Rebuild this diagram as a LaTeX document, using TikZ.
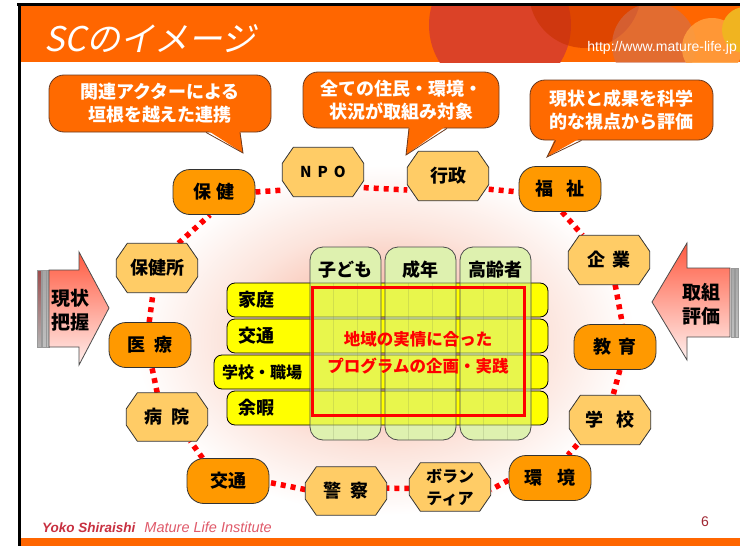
\documentclass[tikz,border=0pt]{standalone}
\usepackage{fontspec}
\setmainfont{Noto Sans CJK JP}
\newfontfamily\titlefont{Noto Sans CJK JP}[FakeSlant=0.22]
\newfontfamily\arialfont{Liberation Sans}
\usetikzlibrary{shapes.misc}
\pgfdeclarelayer{background}
\pgfdeclarelayer{nodebg}
\pgfsetlayers{background,nodebg,main}
\definecolor{hdr}{HTML}{FF6600}
\definecolor{pillc}{HTML}{FF9900}
\definecolor{octc}{HTML}{FFCC66}
\definecolor{callc}{HTML}{FF6A00}
\definecolor{calline}{HTML}{6A3A20}
\definecolor{ringc}{HTML}{FF0000}
\definecolor{rowc}{HTML}{FFFF00}
\definecolor{colc}{HTML}{D2EE98}
\definecolor{colbase}{HTML}{ECF6C8}
\definecolor{glowc}{HTML}{F9C6B6}
\definecolor{glowm}{HTML}{FCE4DC}
\definecolor{circA}{HTML}{DB4227}
\definecolor{circB}{HTML}{C83000}
\definecolor{circC}{HTML}{D07050}
\definecolor{circD}{HTML}{FFA040}
\definecolor{circE}{HTML}{F0B420}
\definecolor{footA}{HTML}{C83040}
\definecolor{footB}{HTML}{E05A6A}
\definecolor{arrtop}{HTML}{FF5A40}
\definecolor{arrbot}{HTML}{FFF0EE}
\pgfdeclareradialshading{glowshade}{\pgfpoint{0bp}{0bp}}{color(0bp)=(glowc); color(9bp)=(glowc); color(16bp)=(glowm); color(25bp)=(white); color(50bp)=(white)}
% octagon outline behind a named rectangular node
\newcommand{\octshape}[1]{%
  \begin{pgfonlayer}{nodebg}
  \filldraw[fill=octc, draw=black!80, line width=0.8pt]
    ([xshift=11pt]#1.north west) -- ([xshift=-11pt]#1.north east)
    -- ([yshift=-16pt]#1.north east) -- ([yshift=16pt]#1.south east)
    -- ([xshift=-11pt]#1.south east) -- ([xshift=11pt]#1.south west)
    -- ([yshift=16pt]#1.south west) -- ([yshift=-16pt]#1.north west) -- cycle;
  \end{pgfonlayer}}
\begin{document}
\begin{tikzpicture}[x=1pt,y=-1pt,
  lbl/.style={font=\fontsize{18}{20}\selectfont\bfseries, text=black, align=center},
  pill/.style={lbl, draw=black!80, line width=0.8pt, fill=pillc, rounded corners=17pt,
    minimum width=82pt, minimum height=45pt, inner sep=0pt},
  oct/.style={lbl, minimum width=81pt, minimum height=49pt, inner sep=0pt},
  ring/.style={draw=ringc, line width=5.5pt, dash pattern=on 5pt off 5pt},
  callout/.style={draw=calline, line width=0.8pt, fill=callc, rounded corners=15pt,
    text=white, font=\fontsize{18}{23}\selectfont\bfseries, align=center, inner sep=0pt},
  rowbar/.style={draw=black, line width=0.8pt, fill=rowc, rounded corners=8pt,
    minimum height=34pt, inner sep=0pt},
  colbase/.style={fill=colbase, rounded corners=13pt, minimum width=71pt, minimum height=193pt, inner sep=0pt},
  colbar/.style={draw=black!70, line width=0.8pt, fill=colc, fill opacity=0.5,
    rounded corners=13pt, minimum width=71pt, minimum height=193pt, inner sep=0pt},
  rowlbl/.style={font=\fontsize{18}{20}\selectfont\bfseries, anchor=west, inner sep=0pt},
  collbl/.style={font=\fontsize{18}{20}\selectfont\bfseries, inner sep=0pt},
  arrow/.style={draw=black!70, line width=0.8pt, top color=arrtop, bottom color=arrbot},
  arrlbl/.style={font=\fontsize{19}{24}\selectfont\bfseries, align=center, inner sep=0pt},
  bar/.style={draw=black!40, line width=0.5pt, top color=black!35, bottom color=black!25},
  redbar/.style={draw=black!40, line width=0.5pt, top color=red!45!black!70, bottom color=black!30}
]
\useasboundingbox (0,0) rectangle (740,546);
\begin{pgfonlayer}{background}
  \fill[white] (0,0) rectangle (740,546);
  \shade[shading=glowshade] (385,340) ellipse [x radius=250pt, y radius=175pt];
\end{pgfonlayer}

% ---------- header ----------
\fill[hdr] (20,6) rectangle (740,62);
\begin{scope}
  \clip (20,6) rectangle (740,62);
  \fill[circA] (500,25) circle [radius=71pt];
  \fill[circB, opacity=0.6] (585,-8) circle [radius=56pt];
  \fill[circC, opacity=0.6] (654,45) circle [radius=42pt];
  \fill[circD, opacity=0.85] (712,48) circle [radius=30pt];
  \fill[circE] (745,30) circle [radius=23pt];
\end{scope}
\fill[black] (17,3) rectangle (740,6);
\fill[black] (17.5,3) rectangle (20.5,546);
\fill[hdr] (20.5,538) rectangle (740,546);

\node[anchor=west, text=white, inner sep=0pt, font=\titlefont\fontsize{34}{36}\selectfont] (title) at (44,39) {SCのイメージ};
\node[anchor=east, text=white, inner sep=0pt, font=\arialfont\fontsize{14}{16}\selectfont] (url) at (737,48) {http://www.mature-life.jp};

% ---------- callouts ----------
\node[callout, minimum width=222pt, minimum height=57pt] (c1) at (160,103.5) {関連アクターによる\\垣根を越えた連携};
\coordinate (t1) at (243,153);
\fill[callc] ([xshift=46pt,yshift=3pt]c1.south) -- (t1) -- ([xshift=80pt,yshift=3pt]c1.south) -- cycle;
\draw[calline, line width=0.8pt] ([xshift=46pt]c1.south) -- (t1) -- ([xshift=80pt]c1.south);

\node[callout, minimum width=196pt, minimum height=56pt] (c2) at (401,100) {全ての住民・環境・\\状況が取組み対象};
\coordinate (t2) at (406,155);
\fill[callc] ([xshift=8pt,yshift=3pt]c2.south) -- (t2) -- ([xshift=46pt,yshift=3pt]c2.south) -- cycle;
\draw[calline, line width=0.8pt] ([xshift=8pt]c2.south) -- (t2) -- ([xshift=46pt]c2.south);

\node[callout, minimum width=183pt, minimum height=60pt] (c3) at (621.5,110) {現状と成果を科学\\的な視点から評価};
\coordinate (t3) at (547,157);
\fill[callc] ([xshift=-66pt,yshift=3pt]c3.south) -- (t3) -- ([xshift=-40pt,yshift=3pt]c3.south) -- cycle;
\draw[calline, line width=0.8pt] ([xshift=-66pt]c3.south) -- (t3) -- ([xshift=-40pt]c3.south);

% ---------- ring nodes ----------
\node[pill] (hoken) at (214,192) {保\hspace{6pt}健};
\node[oct, font=\fontsize{15}{18}\selectfont\bfseries] (npo) at (323,172) {N\hspace{6pt}P\hspace{6pt}O};
\node[oct] (gyosei) at (448,176) {行政};
\node[pill] (fukushi) at (560,189) {福\hspace{13pt}祉};
\node[oct] (kigyo) at (609,260) {企\hspace{8pt}業};
\node[pill] (kyoiku) at (615,347) {教\hspace{7pt}育};
\node[oct] (gakko) at (610,420) {学\hspace{13pt}校};
\node[pill] (kankyo) at (550,478) {環\hspace{15pt}境};
\node[oct, minimum height=48pt, font=\fontsize{16}{22}\selectfont\bfseries] (volunteer) at (450,487) {ボラン\\ティア};
\node[oct, minimum height=48pt] (keisatsu) at (346,491) {警\hspace{9pt}察};
\node[pill] (kotsu) at (228,481) {交通};
\node[oct, minimum height=48pt] (byoin) at (167,417) {病\hspace{9pt}院};
\node[pill] (iryo) at (150,345) {医\hspace{9pt}療};
\node[oct] (hokensho) at (157,268) {保健所};
\octshape{npo}\octshape{gyosei}\octshape{kigyo}\octshape{gakko}\octshape{volunteer}
\octshape{keisatsu}\octshape{byoin}\octshape{hokensho}

\begin{pgfonlayer}{background}
  \draw[ring] (hokensho.49) -- (hoken.260);
  \draw[ring] (hoken.0) -- (npo.204);
  \draw[ring] (npo.339) -- (gyosei.199);
  \draw[ring] (gyosei.342) -- (fukushi.184);
  \draw[ring] (fukushi.275) -- (kigyo.137);
  \draw[ring] (kigyo.284) -- (kyoiku.72);
  \draw[ring] (kyoiku.282) -- (gakko.83);
  \draw[ring] (gakko.217) -- (kankyo.52);
  \draw[ring] (kankyo.183) -- (volunteer.356);
  \draw[ring] (volunteer.182) -- (keisatsu.4);
  \draw[ring] (keisatsu.178) -- (kotsu.358);
  \draw[ring] (kotsu.138) -- (byoin.314);
  \draw[ring] (byoin.112) -- (iryo.275);
  \draw[ring] (iryo.92) -- (hokensho.261);
\end{pgfonlayer}

% ---------- side arrows ----------
\path[redbar] (37,270) rectangle (41,347);
\path[bar] (42.5,270) rectangle (46,347);
\path[bar] (46,270) rectangle (49,347);
\path[arrow] (49,270) -- (79,270) -- (79,252) -- (109,308) -- (79,365) -- (79,347) -- (49,347) -- cycle;
\node[arrlbl] (genjo) at (70,310) {現状\\把握};

\path[arrow] (652,302) -- (687,243) -- (687,268) -- (730,268) -- (730,337) -- (687,337) -- (687,360) -- cycle;
\path[bar] (731,268) rectangle (734,337);
\path[bar] (735,268) rectangle (738,337);
\node[arrlbl] (torikumi) at (701,304) {取組\\評価};

% ---------- central grid ----------
\node[colbase] (b1) at (345.5,343.5) {};
\node[colbase] (b2) at (420.5,343.5) {};
\node[colbase] (b3) at (495.5,343.5) {};
\node[rowbar, minimum width=321pt] (r1) at (387.5,300) {};
\node[rowbar, minimum width=321pt] (r2) at (387.5,336) {};
\node[rowbar, minimum width=334pt] (r3) at (381,372) {};
\node[rowbar, minimum width=321pt] (r4) at (387.5,408) {};
\node[rowlbl] (l1) at (238,300) {家庭};
\node[rowlbl] (l2) at (238,336) {交通};
\node[rowlbl, font=\fontsize{16}{18}\selectfont\bfseries] (l3) at (222,372) {学校・職場};
\node[rowlbl] (l4) at (238,408) {余暇};

\node[colbar] (k1) at (345.5,343.5) {};
\node[colbar] (k2) at (420.5,343.5) {};
\node[colbar] (k3) at (495.5,343.5) {};
\foreach \cx in {310,385,460}{
  \draw[colc!50!black, opacity=0.18, line width=0.6pt] (\cx+23.7,283) -- (\cx+23.7,440);
  \draw[colc!50!black, opacity=0.18, line width=0.6pt] (\cx+47.3,283) -- (\cx+47.3,440);
}
\node[collbl] (h1) at (345.5,270) {子ども};
\node[collbl] (h2) at (420.5,270) {成年};
\node[collbl] (h3) at (495.5,270) {高齢者};

\node[draw=red, line width=3pt, minimum width=212pt, minimum height=128pt, inner sep=0pt] (box) at (418,351) {};
\node[text=red, font=\fontsize{16.5}{27}\selectfont\bfseries, align=center, inner sep=0pt] (plan) at (418,353) {地域の実情に合った\\プログラムの企画・実践};

% ---------- footer ----------
\node[anchor=west, inner sep=0pt, font=\arialfont\fontsize{13.5}{16}\selectfont] (foot) at (42,527)
  {\textcolor{footA}{\bfseries\itshape Yoko Shiraishi}\hspace{9pt}\textcolor{footB}{\itshape\fontsize{14.5}{16}\selectfont Mature Life Institute}};
\node[inner sep=0pt, text=footA!80!black, font=\arialfont\fontsize{14}{16}\selectfont] (pnum) at (705,522) {6};
\end{tikzpicture}
\end{document}
